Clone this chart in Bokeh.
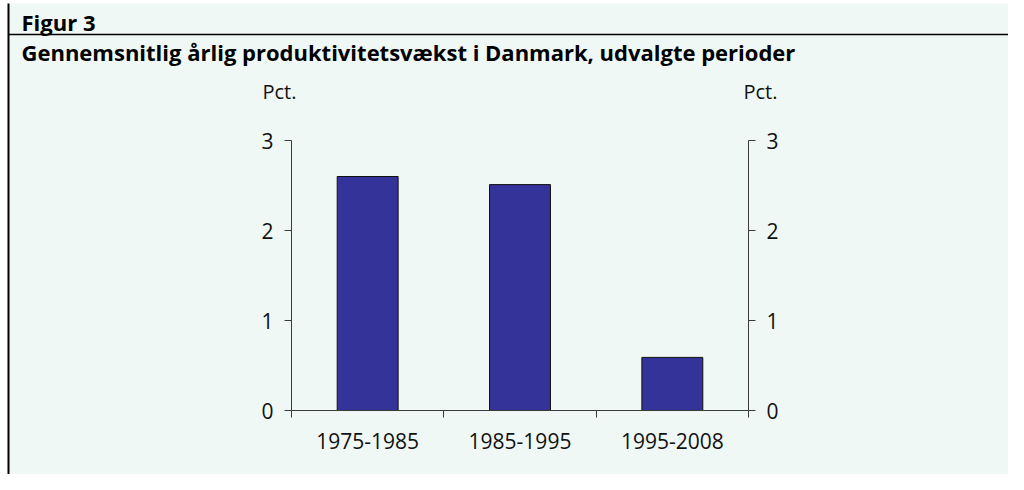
from bokeh.plotting import figure
from bokeh.models import (FixedTicker, LinearAxis, Label, Arrow, Range1d,
                          ColumnDataSource, BoxAnnotation)
from bokeh.embed import file_html
from bokeh.resources import INLINE

# ---- data ----
categories = ["1975-1985", "1985-1995", "1995-2008"]
growth = [2.60, 2.51, 0.59]
y_ticks = [0, 1, 2, 3]
figure_label = "Figur 3"
title_text = "Gennemsnitlig årlig produktivitetsvækst i Danmark, udvalgte perioder"
unit_label = "Pct."

BG = "#eff8f5"
BAR = "#333399"
FONT = "Open Sans"
AX = "#3a3a3a"

W, H = 1008, 474
# chart geometry in canvas pixels: x=0 axis at 291, x=3 at 748; y=0 at 410, y=3 at 140
X0, X3, Y0, Y3 = 291.0, 748.0, 410.0, 140.0
ncat = len(categories)
px_x = (X3 - X0) / ncat
px_y = (Y0 - Y3) / 3.0

def dx(cx):
    return (cx - X0) / px_x

def dy(cy):
    return 3 + (Y3 - cy) / px_y

p = figure(width=W, height=H, output_backend="svg", toolbar_location=None,
           x_range=Range1d(dx(0), dx(W)), y_range=Range1d(dy(H), dy(0)),
           min_border=0, min_border_left=0, min_border_right=0,
           min_border_top=0, min_border_bottom=0,
           background_fill_color="white", border_fill_color="white",
           outline_line_color=None, x_axis_location=None, y_axis_location=None)
p.grid.visible = False

# mint panel
p.add_layout(BoxAnnotation(left=dx(8), top=dy(3), fill_color=BG, fill_alpha=1,
                           line_color=None, level="underlay"))

xs = [i + 0.5 for i in range(ncat)]
src = ColumnDataSource(dict(x=xs, top=growth, cat=categories))
p.vbar(x="x", top="top", bottom=0, width=0.4, source=src,
       fill_color=BAR, line_color="#111111", line_width=1)

# x axis (ticks at category boundaries, labels at centres)
xaxis = LinearAxis(ticker=FixedTicker(ticks=xs, minor_ticks=list(range(ncat + 1))),
                   major_label_overrides={x: c for x, c in zip(xs, categories)},
                   fixed_location=0, bounds=(0, ncat),
                   major_tick_out=0, major_tick_in=0, minor_tick_out=7, minor_tick_in=0,
                   minor_tick_line_color=AX, axis_line_color=AX,
                   major_label_text_font=FONT, major_label_text_font_size="21px",
                   major_label_text_color="#111111", major_label_standoff=15)
p.add_layout(xaxis, "below")

for side, loc in (("left", 0), ("right", ncat)):
    ya = LinearAxis(ticker=FixedTicker(ticks=y_ticks, minor_ticks=[]),
                    fixed_location=loc, bounds=(0, 3),
                    major_tick_out=7, major_tick_in=0, major_tick_line_color=AX,
                    axis_line_color=AX, minor_tick_out=0, minor_tick_in=0,
                    major_label_text_font=FONT, major_label_text_font_size="21px",
                    major_label_text_color="#111111", major_label_standoff=11)
    p.add_layout(ya, side)

# unit labels
for lx in (262.0, 743.0):
    p.add_layout(Label(x=dx(lx), y=dy(91), text=unit_label, text_font=FONT,
                       text_font_size="20px", text_color="#111111",
                       text_baseline="alphabetic", text_align="left"))

# header texts
p.add_layout(Label(x=dx(21), y=dy(21), text=figure_label, text_font=FONT,
                   text_font_style="bold", text_font_size="22px", text_color="#000000",
                   text_baseline="alphabetic"))
p.add_layout(Label(x=dx(21), y=dy(51), text=title_text, text_font=FONT,
                   text_font_style="bold", text_font_size="22px", text_color="#000000",
                   text_baseline="alphabetic"))

# header rule and left border
p.add_layout(Arrow(end=None, x_start=dx(8), y_start=dy(34), x_end=dx(W + 20), y_end=dy(34),
                   line_color="black", line_width=1.5))
p.add_layout(Arrow(end=None, x_start=dx(8), y_start=dy(3), x_end=dx(8), y_end=dy(H + 20),
                   line_color="black", line_width=2))

open("out.html", "w").write(file_html(p, INLINE))
